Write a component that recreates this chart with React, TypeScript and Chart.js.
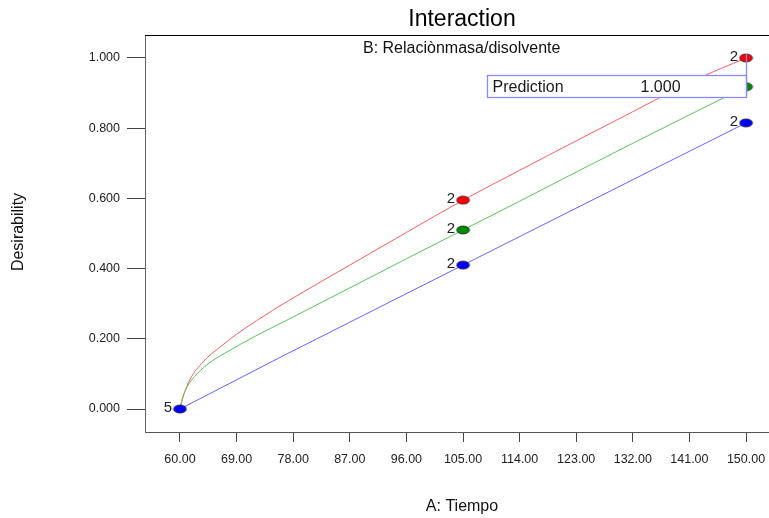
import React, { useEffect, useRef } from "react";
import { Chart, registerables } from "chart.js";

Chart.register(...registerables);

// ---- data ----
const xTicks = [60, 69, 78, 87, 96, 105, 114, 123, 132, 141, 150];
const yTicks = [0, 0.2, 0.4, 0.6, 0.8, 1.0];

const redX = [60, 60.5, 61.6, 63.7, 66.4, 69, 72.2, 77.2, 87, 96, 105, 114, 123, 132, 141, 146, 150];
const redY = [0, 0.035, 0.0845, 0.135, 0.177, 0.213, 0.252, 0.308, 0.41, 0.503, 0.595, 0.68, 0.764, 0.847, 0.93, 0.97, 1.0];

const greenX = [60, 60.3, 61.1, 62.7, 64.8, 68, 71.7, 77.2, 87, 96, 105, 114, 123, 132, 141, 150];
const greenY = [0, 0.026, 0.062, 0.1, 0.133, 0.168, 0.205, 0.255, 0.345, 0.428, 0.51, 0.592, 0.675, 0.757, 0.838, 0.918];

const blueX = [60, 75.9, 105, 136.3, 150];
const blueY = [0, 0.147, 0.41, 0.692, 0.815];

const markerX = [60, 105, 150];
const redMarkers = [null, 0.595, 1.0];
const greenMarkers = [null, 0.51, 0.918];
const blueMarkers = [0, 0.41, 0.815];
const markerCounts = [5, 2, 2];

const predictionLabel = "Prediction";
const predictionValue = "1.000";

const FONT = "'Liberation Sans', Arial, sans-serif";

function toPts(xs: number[], ys: (number | null)[]) {
  const out: { x: number; y: number }[] = [];
  xs.forEach((x, i) => {
    const y = ys[i];
    if (y !== null && y !== undefined) out.push({ x, y });
  });
  return out;
}

function ellipse(fill: string) {
  const c = document.createElement("canvas");
  c.width = 15;
  c.height = 10;
  const g = c.getContext("2d")!;
  g.beginPath();
  g.ellipse(7.5, 5, 6.4, 4, 0, 0, Math.PI * 2);
  g.fillStyle = fill;
  g.fill();
  g.lineWidth = 0.8;
  g.strokeStyle = "#222";
  g.stroke();
  return c;
}

export default function App() {
  const ref = useRef<HTMLCanvasElement | null>(null);

  useEffect(() => {
    document.body.style.margin = "0";
    const canvas = ref.current!;
    const redStyle = ellipse("#ff0000");
    const greenStyle = ellipse("#008a00");
    const blueStyle = ellipse("#0000ff");

    const overlay = {
      id: "overlay",
      afterDatasetsDraw(chart: any) {
        const { ctx, chartArea } = chart;
        const xs = chart.scales.x;
        const ys = chart.scales.y;
        ctx.save();
        // top border
        ctx.strokeStyle = "#000";
        ctx.lineWidth = 1;
        ctx.beginPath();
        ctx.moveTo(chartArea.left, chartArea.top + 0.5);
        ctx.lineTo(chartArea.right, chartArea.top + 0.5);
        ctx.stroke();

        // count labels
        ctx.font = `15px ${FONT}`;
        ctx.fillStyle = "#222";
        ctx.textAlign = "right";
        ctx.textBaseline = "middle";
        const drawn = new Set<string>();
        [redMarkers, greenMarkers, blueMarkers].forEach((arr) => {
          arr.forEach((v, i) => {
            if (v === null) return;
            const key = `${markerX[i]}_${v}`;
            if (drawn.has(key)) return;
            drawn.add(key);
            const px = xs.getPixelForValue(markerX[i]);
            const py = ys.getPixelForValue(v);
            ctx.fillText(String(markerCounts[i]), px - 8, py - 1);
          });
        });

        // prediction box
        const right = Math.round(xs.getPixelForValue(150)) + 0.5;
        const left = right - 259;
        const top = 75.5;
        const bottom = 97.5;
        ctx.fillStyle = "#fff";
        ctx.fillRect(left, top, right - left, bottom - top);
        ctx.strokeStyle = "#8a8aff";
        ctx.lineWidth = 1.3;
        ctx.strokeRect(left, top, right - left, bottom - top);
        ctx.beginPath();
        ctx.moveTo(right, bottom);
        ctx.lineTo(right, ys.getPixelForValue(1.0) - 4);
        ctx.stroke();
        ctx.fillStyle = "#1a1a1a";
        ctx.font = `16px ${FONT}`;
        ctx.textAlign = "left";
        ctx.textBaseline = "middle";
        ctx.fillText(predictionLabel, left + 5, (top + bottom) / 2 + 1);
        ctx.fillText(predictionValue, left + 153, (top + bottom) / 2 + 1);
        ctx.restore();
      },
      afterDraw(chart: any) {
        const { ctx } = chart;
        ctx.save();
        ctx.fillStyle = "#000";
        ctx.textBaseline = "middle";
        ctx.textAlign = "center";
        ctx.font = `23px ${FONT}`;
        ctx.fillText("Interaction", 462, 20);
        ctx.font = `16px ${FONT}`;
        ctx.textAlign = "left";
        ctx.fillStyle = "#111";
        ctx.fillText("B: Relaciònmasa/disolvente", 363, 49);
        ctx.textAlign = "center";
        ctx.fillText("A: Tiempo", 462, 507);
        ctx.translate(19, 232);
        ctx.rotate(-Math.PI / 2);
        ctx.fillText("Desirability", 0, 0);
        ctx.restore();
      },
    };

    const chart = new Chart(canvas, {
      type: "scatter",
      data: {
        datasets: [
          {
            data: toPts(markerX, blueMarkers),
            pointStyle: blueStyle as any,
            pointRadius: 6,
            showLine: false,
          },
          {
            data: toPts(markerX, greenMarkers),
            pointStyle: greenStyle as any,
            pointRadius: 6,
            showLine: false,
          },
          {
            data: toPts(markerX, redMarkers),
            pointStyle: redStyle as any,
            pointRadius: 6,
            showLine: false,
          },
          {
            data: toPts(blueX, blueY),
            showLine: true,
            borderColor: "rgb(100,100,255)",
            borderWidth: 1,
            pointRadius: 0,
            tension: 0,
          },
          {
            data: toPts(greenX, greenY),
            showLine: true,
            borderColor: "rgb(90,195,90)",
            borderWidth: 1,
            pointRadius: 0,
            cubicInterpolationMode: "monotone",
          },
          {
            data: toPts(redX, redY),
            showLine: true,
            borderColor: "rgb(255,95,95)",
            borderWidth: 1,
            pointRadius: 0,
            cubicInterpolationMode: "monotone",
          },
        ] as any,
      },
      options: {
        responsive: false,
        animation: false,
        layout: { autoPadding: false, padding: { top: 35, left: 0, right: 0, bottom: 0 } },
        plugins: {
          legend: { display: false },
          tooltip: { enabled: false },
          title: { display: false },
        },
        scales: {
          x: {
            type: "linear",
            min: 54.435,
            max: 153.655,
            afterBuildTicks: (s: any) => {
              s.ticks = xTicks.map((v) => ({ value: v }));
            },
            afterFit: (s: any) => {
              s.height = 86;
              s.paddingLeft = 0;
              s.paddingRight = 0;
            },
            grid: {
              drawOnChartArea: false,
              drawTicks: true,
              tickLength: 10,
              tickColor: "#444",
            },
            border: { display: true, color: "#555", width: 1 },
            ticks: {
              padding: 10,
              maxRotation: 0,
              autoSkip: false,
              color: "#222",
              font: { family: FONT, size: 12.5 },
              callback: (v: any) => Number(v).toFixed(2),
            },
          },
          y: {
            type: "linear",
            min: -0.0655,
            max: 1.0655,
            afterBuildTicks: (s: any) => {
              s.ticks = yTicks.map((v) => ({ value: v }));
            },
            afterFit: (s: any) => {
              s.width = 145;
              s.paddingTop = 0;
              s.paddingBottom = 0;
            },
            grid: {
              drawOnChartArea: false,
              drawTicks: true,
              tickLength: 18,
              tickColor: "#444",
            },
            border: { display: true, color: "#666", width: 1 },
            ticks: {
              padding: 7,
              autoSkip: false,
              color: "#222",
              font: { family: FONT, size: 12.5 },
              callback: (v: any) => Number(v).toFixed(3),
            },
          },
        },
      },
      plugins: [overlay],
    });

    return () => chart.destroy();
  }, []);

  return (
    <div style={{ position: "fixed", left: 0, top: 0, width: 769, height: 518, background: "#fff" }}>
      <canvas ref={ref} width={769} height={518} />
    </div>
  );
}
